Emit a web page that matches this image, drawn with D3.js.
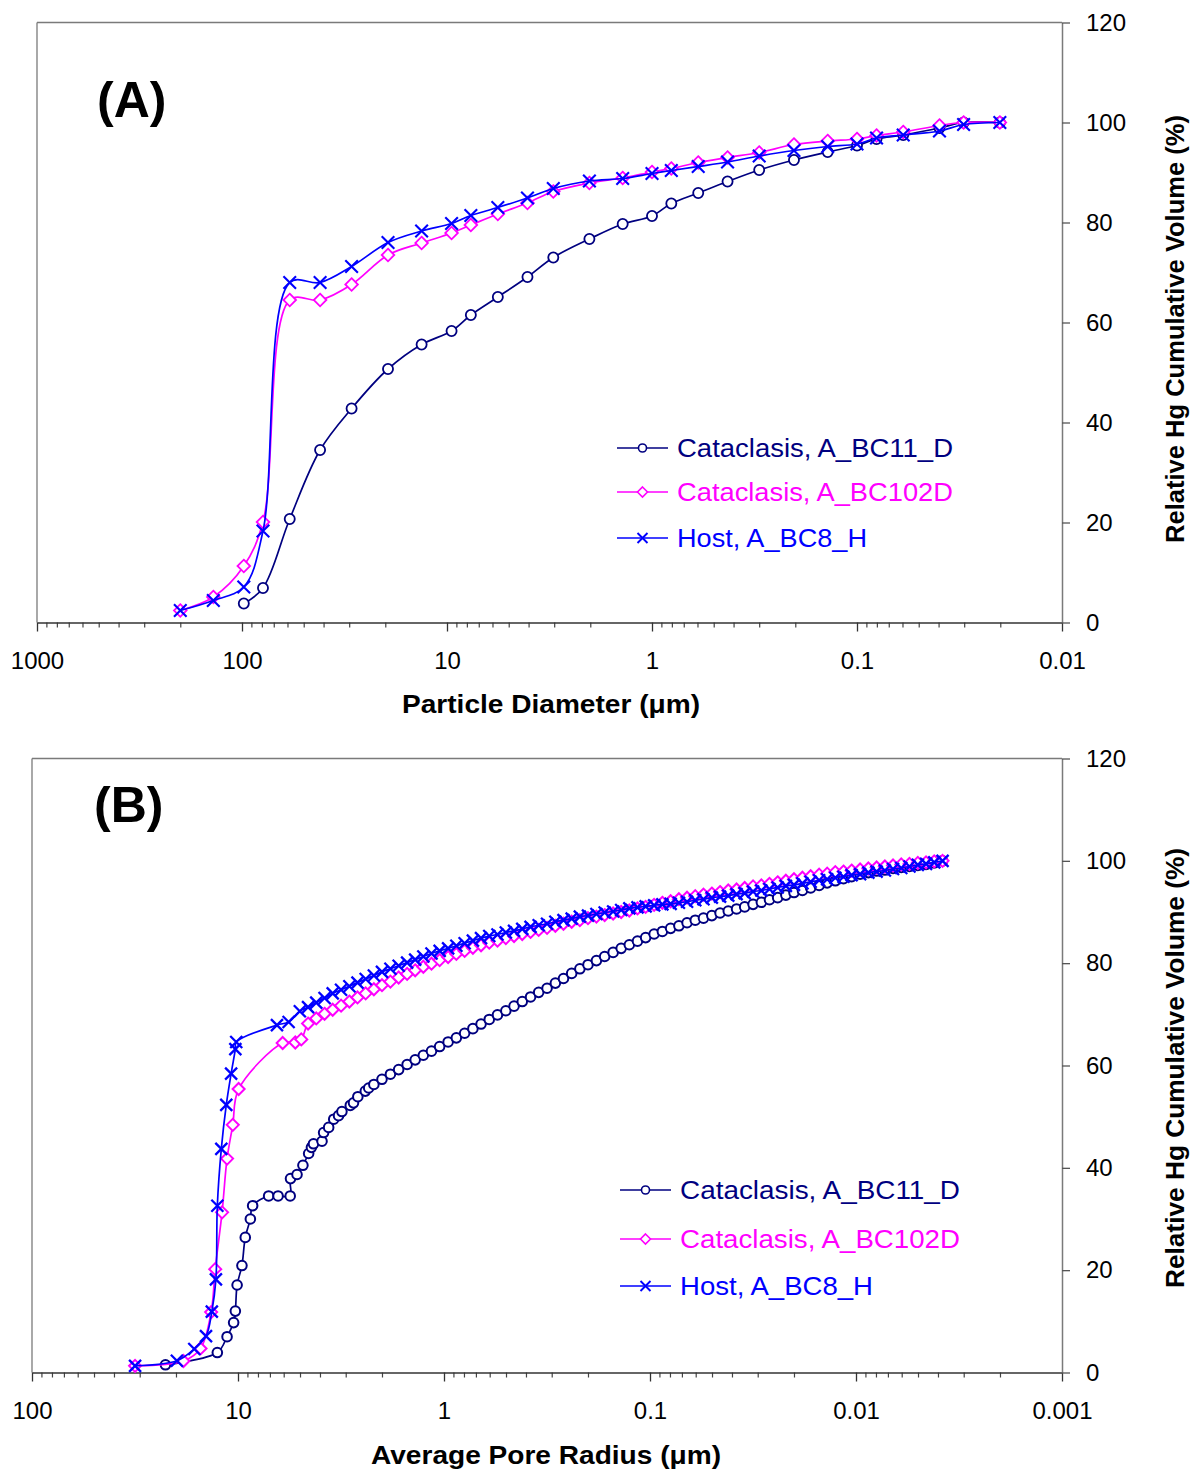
<!DOCTYPE html>
<html><head><meta charset="utf-8">
<script src="https://cdn.jsdelivr.net/npm/d3@7"></script>
<style>body{margin:0;background:#fff} svg{display:block}</style>
</head><body>
<svg id="chart" width="1197" height="1471"></svg>
<script>
// ---------- Panel A data (particle diameter, µm) ----------
const diameterA = [200,138,98,79,58.5,41.6,29.2,19.4,13.3,9.5,7.65,5.65,4.05,3.03,2.02,1.39,1.0,0.805,0.595,0.428,0.3,0.203,0.139,0.1,0.0803,0.0595,0.0396,0.0302,0.0201];
const hostA  = [2.4,4.4,7.1,18.3,68.0,68.0,71.2,76.0,78.3,79.8,81.4,83.0,84.9,86.8,88.3,88.8,89.8,90.4,91.2,92.1,93.3,94.4,95.2,95.7,96.9,97.5,98.3,99.6,100];
const bc102A = [2.4,5.1,11.3,20.1,64.5,64.5,67.6,73.5,75.9,77.9,79.5,81.7,83.9,86.2,87.9,88.9,90.1,90.8,92.0,93.0,94.0,95.6,96.3,96.7,97.4,98.1,99.4,100,100];
const bc11A  = [null,null,3.8,6.9,20.7,34.5,42.8,50.7,55.6,58.3,61.5,65.1,69.1,73.0,76.7,79.7,81.3,83.8,85.9,88.2,90.5,92.5,94.1,95.4,96.7,97.5,98.9,100,100];

// ---------- Panel B data (average pore radius, µm) ----------
const denseRadiusB = [5.01,4.57,4.17,3.80,3.47,3.16,2.88,2.63,2.40,2.19,2.00,1.82,1.66,1.51,1.38,1.26,1.15,1.05,0.955,0.871,0.794,0.724,0.661,0.603,0.550,0.501,0.457,0.417,0.380,0.347,0.316,0.288,0.263,0.240,0.219,0.200,0.182,0.166,0.151,0.138,0.126,0.115,0.105,0.0955,0.0871,0.0794,0.0724,0.0661,0.0603,0.0550,0.0501,0.0457,0.0417,0.0380,0.0347,0.0316,0.0288,0.0263,0.0240,0.0219,0.0200,0.0182,0.0166,0.0151,0.0138,0.0126,0.0115,0.0105,0.00955,0.00871,0.00794,0.00724,0.00661,0.00603,0.00550,0.00501,0.00457,0.00417,0.00380];

const hostB_r = [31.6,19.8,16.3,14.3,13.4,12.8,12.6,12.05,11.4,10.8,10.3,10.2,6.47,5.68];
const hostB_v = [1.3,2.3,4.6,7.1,11.9,18.2,32.6,43.7,52.3,58.4,63.2,64.6,67.9,68.5,
  70.6,71.4,72.3,73.2,74.1,74.8,75.5,76.2,76.9,77.6,78.3,78.9,79.5,80.1,80.7,81.3,81.9,82.4,82.9,83.4,83.9,84.4,84.9,85.3,85.6,86.0,86.3,86.7,87.1,87.4,87.7,88.1,88.4,88.7,89.1,89.3,89.6,89.9,90.1,90.4,90.7,90.9,91.1,91.3,91.5,91.6,91.8,92.0,92.3,92.5,92.8,93.0,93.2,93.5,93.7,94.0,94.2,94.5,94.8,95.1,95.3,95.6,95.9,96.2,96.4,96.7,96.9,97.2,97.4,97.7,97.9,98.1,98.4,98.6,98.9,99.2,99.4,99.7,100];

const bc102B_r = [31.6,18.4,15.2,13.5,12.9,11.95,11.3,10.6,9.93,6.07,5.27,4.93];
const bc102B_v = [1.3,2.25,4.7,11.8,20.2,31.3,41.8,48.4,55.4,64.4,64.5,65.1,
  68.2,69.2,70.1,70.9,71.7,72.5,73.3,74.1,74.9,75.7,76.4,77.2,77.9,78.6,79.3,79.9,80.6,81.2,81.8,82.4,83.0,83.5,84.0,84.4,84.9,85.3,85.7,86.1,86.5,86.9,87.3,87.7,88.1,88.4,88.8,89.1,89.4,89.7,90.0,90.3,90.7,91.0,91.4,91.8,92.1,92.5,92.8,93.1,93.4,93.6,93.9,94.2,94.4,94.7,95.0,95.2,95.5,95.8,96.1,96.4,96.7,97.0,97.3,97.5,97.8,97.9,98.1,98.3,98.5,98.7,98.9,99.1,99.3,99.4,99.6,99.7,99.9,100];

const bc11B_r = [22.5,12.6,11.3,10.5,10.3,10.1,9.57,9.22,8.71,8.49,7.10,6.39,5.58,5.56,5.17,4.84,4.54,4.4,4.3,3.91,3.84,3.63,3.43,3.25,3.13,2.85,2.75,2.62,2.41,2.32];
const bc11B_v = [1.5,3.9,7.0,9.75,12.0,17.1,20.9,26.4,30.0,32.6,34.5,34.5,34.5,37.9,38.7,40.5,42.8,44.0,44.7,45.2,46.9,47.9,49.5,50.2,51.0,52.2,52.7,53.9,55.0,55.6,
  56.3,57.3,58.3,59.2,60.2,61.1,62.0,62.8,63.7,64.6,65.4,66.3,67.2,68.1,69.0,69.9,70.7,71.6,72.5,73.4,74.3,75.1,76.1,77.0,78.0,78.9,79.7,80.5,81.3,82.1,82.9,83.6,84.3,85.0,85.7,86.2,86.8,87.3,87.9,88.4,88.8,89.3,89.8,90.2,90.6,91.0,91.5,91.9,92.4,92.8,93.3,93.8,94.2,94.7,95.2,95.7,96.1,96.5,96.9,97.4,97.7,98.0,98.2,98.5,98.7,98.9,99.1,99.3,99.6,100];

// ---------- labels ----------
const seriesNames = ["Cataclasis, A_BC11_D", "Cataclasis, A_BC102D", "Host, A_BC8_H"];
const seriesColors = ["#000080", "#FF00FF", "#0000FF"];
const seriesMarkers = ["circle", "diamond", "cross"];
const yTickValues = [0,20,40,60,80,100,120];
const xTickValuesA = [1000,100,10,1,0.1,0.01];
const xTickLabelsA = ["1000","100","10","1","0.1","0.01"];
const xTickValuesB = [100,10,1,0.1,0.01,0.001];
const xTickLabelsB = ["100","10","1","0.1","0.01","0.001"];

const FONT = "'Liberation Sans', Arial, Helvetica, sans-serif";
const svg = d3.select("#chart");

function minorTicks(lo, hi) {
  const out = [];
  for (let e = Math.floor(Math.log10(lo)); e < Math.log10(hi); e++) {
    for (let m = 2; m <= 9; m++) { const v = m * Math.pow(10, e); if (v > lo && v < hi) out.push(v); }
  }
  return out;
}

function drawMarker(g, type, cx, cy, color, s, sw) {
  if (type === "circle") {
    g.append("circle").attr("cx", cx).attr("cy", cy).attr("r", s * 0.8)
      .attr("fill", "#fff").attr("stroke", color).attr("stroke-width", sw);
  } else if (type === "diamond") {
    g.append("path").attr("d", `M${cx},${cy - s}L${cx + s},${cy}L${cx},${cy + s}L${cx - s},${cy}Z`)
      .attr("fill", "#fff").attr("stroke", color).attr("stroke-width", sw);
  } else {
    g.append("path").attr("d", `M${cx - s},${cy - s}L${cx + s},${cy + s}M${cx - s},${cy + s}L${cx + s},${cy - s}`)
      .attr("fill", "none").attr("stroke", color).attr("stroke-width", sw + 0.3);
  }
}

function panel(o) {
  const g = svg.append("g");
  const [x0, x1] = o.x.range();
  const [y0, y1] = o.y.range();
  g.append("line").attr("x1", x0).attr("x2", x1).attr("y1", y1).attr("y2", y1).attr("stroke", "#7a7a7a").attr("stroke-width", 1.3);
  g.append("line").attr("x1", x0).attr("x2", x0).attr("y1", y1).attr("y2", y0).attr("stroke", "#7a7a7a").attr("stroke-width", 1.3);

  const dom = o.x.domain();
  const lo = Math.min(...dom), hi = Math.max(...dom);
  const minorAxis = d3.axisBottom(o.x).tickValues(minorTicks(lo, hi)).tickSize(5).tickSizeOuter(0).tickFormat("");
  const gm = g.append("g").attr("transform", `translate(0,${y0})`).call(minorAxis);
  gm.select(".domain").remove();
  gm.selectAll("line").attr("stroke", "#444").attr("stroke-width", 1.2);
  const majorAxis = d3.axisBottom(o.x).tickValues(o.xTicks).tickSize(9).tickSizeOuter(0).tickPadding(20)
    .tickFormat((d, i) => o.xLabels[i]);
  const ga = g.append("g").attr("transform", `translate(0,${y0})`).call(majorAxis);
  ga.select(".domain").attr("stroke", "#333").attr("stroke-width", 1.5);
  ga.selectAll("line").attr("stroke", "#333").attr("stroke-width", 1.3);
  ga.selectAll("text").attr("font-family", FONT).attr("font-size", 24).attr("fill", "#000");

  const ra = d3.axisRight(o.y).tickValues(yTickValues).tickSize(8).tickSizeOuter(0).tickPadding(16);
  const gr = g.append("g").attr("transform", `translate(${x1},0)`).call(ra);
  gr.select(".domain").attr("stroke", "#7a7a7a").attr("stroke-width", 1.5);
  gr.selectAll("line").attr("stroke", "#555").attr("stroke-width", 1.3);
  gr.selectAll("text").attr("font-family", FONT).attr("font-size", 24).attr("fill", "#000");

  g.append("text").attr("x", o.xTitle.x).attr("y", o.xTitle.y).attr("text-anchor", "middle")
    .attr("font-family", FONT).attr("font-size", 25).attr("font-weight", "bold")
    .attr("textLength", o.xTitle.len).attr("lengthAdjust", "spacingAndGlyphs").text(o.xTitle.text);
  g.append("text").attr("transform", `translate(${o.yTitle.x},${o.yTitle.y}) rotate(-90)`)
    .attr("text-anchor", "middle").attr("font-family", FONT).attr("font-size", 25).attr("font-weight", "bold")
    .attr("textLength", o.yTitle.len).attr("lengthAdjust", "spacingAndGlyphs").text("Relative Hg Cumulative Volume (%)");
  g.append("text").attr("x", o.label.x).attr("y", o.label.y).attr("font-family", FONT)
    .attr("font-size", 50).attr("font-weight", "bold").text(o.label.text);

  const line = d3.line().x(d => o.x(d[0])).y(d => o.y(d[1]))
    .curve(d3.curveCatmullRom.alpha(0.5));
  o.series.forEach((s, si) => {
    const valid = s.r.map((r, i) => [r, s.v[i]]).filter(d => d[1] != null);
    g.append("path").datum(valid).attr("d", line).attr("fill", "none")
      .attr("stroke", seriesColors[si]).attr("stroke-width", 1.7);
    const gmk = g.append("g");
    valid.forEach(d => drawMarker(gmk, seriesMarkers[si], o.x(d[0]), o.y(d[1]), seriesColors[si], o.mSize, o.mStroke));
  });

  o.legend.rows.forEach((ly, i) => {
    const lx0 = o.legend.x, lx1 = o.legend.x + 51;
    g.append("line").attr("x1", lx0).attr("x2", lx1).attr("y1", ly).attr("y2", ly)
      .attr("stroke", seriesColors[i]).attr("stroke-width", 1.7);
    drawMarker(g, seriesMarkers[i], (lx0 + lx1) / 2, ly, seriesColors[i], 5, 1.6);
    g.append("text").attr("x", o.legend.tx).attr("y", ly + 9).attr("font-family", FONT).attr("font-size", 26)
      .attr("fill", seriesColors[i]).attr("textLength", o.legend.lens[i]).attr("lengthAdjust", "spacingAndGlyphs")
      .text(seriesNames[i]);
  });
}

const xA = d3.scaleLog().domain([1000, 0.01]).range([37, 1062]);
const yA = d3.scaleLinear().domain([0, 120]).range([622.5, 22.5]);
const xB = d3.scaleLog().domain([100, 0.001]).range([32, 1062]);
const yB = d3.scaleLinear().domain([0, 120]).range([1372.5, 758.5]);

panel({
  x: xA, y: yA, xTicks: xTickValuesA, xLabels: xTickLabelsA, mSize: 6.3, mStroke: 1.8,
  xTitle: {x: 551, y: 713, len: 298, text: "Particle Diameter (\u03bcm)"},
  yTitle: {x: 1184, y: 329, len: 428},
  label: {x: 97, y: 117, text: "(A)"},
  legend: {x: 617, tx: 677, rows: [448, 492, 538], lens: [276, 276, 190]},
  series: [
    {r: diameterA, v: bc11A},
    {r: diameterA, v: bc102A},
    {r: diameterA, v: hostA}
  ]
});

panel({
  x: xB, y: yB, xTicks: xTickValuesB, xLabels: xTickLabelsB, mSize: 6, mStroke: 2,
  xTitle: {x: 546, y: 1464, len: 350, text: "Average Pore Radius (\u03bcm)"},
  yTitle: {x: 1184, y: 1068, len: 440},
  label: {x: 94, y: 822, text: "(B)"},
  legend: {x: 620, tx: 680, rows: [1190, 1239, 1286], lens: [280, 280, 193]},
  series: [
    {r: bc11B_r.concat(denseRadiusB.slice(9)), v: bc11B_v},
    {r: bc102B_r.concat(denseRadiusB.slice(1)), v: bc102B_v},
    {r: hostB_r.concat(denseRadiusB), v: hostB_v}
  ]
});
</script>
</body></html>
